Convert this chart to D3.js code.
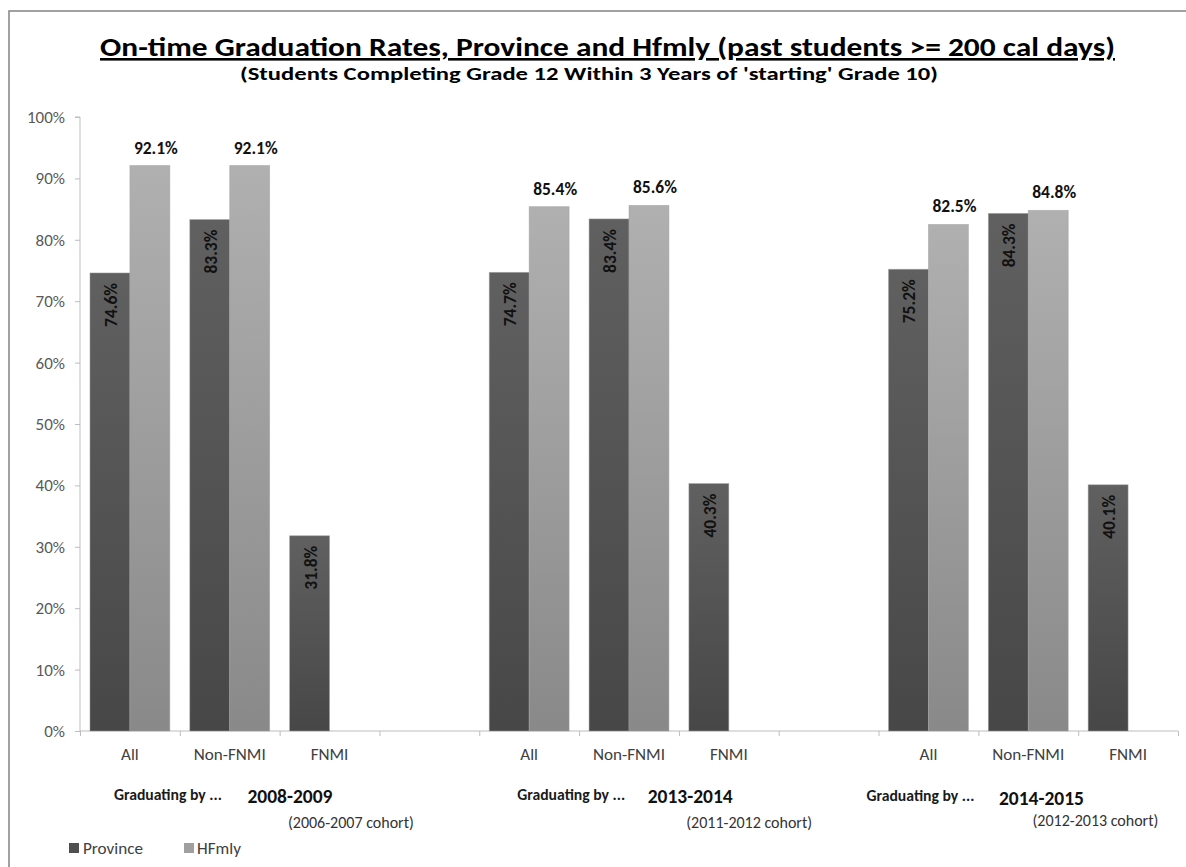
<!DOCTYPE html>
<html>
<head>
<meta charset="utf-8">
<script src="https://cdn.jsdelivr.net/npm/d3@7/dist/d3.min.js"></script>
<style>
  html, body { margin: 0; padding: 0; background: #fff; }
  svg { display: block; font-family: Carlito, Lato, "Open Sans", sans-serif; }
</style>
</head>
<body>
<svg id="chart" width="1186" height="867"></svg>
<script>
// ---------------- data ----------------
const categories = ["All", "Non-FNMI", "FNMI", "", "All", "Non-FNMI", "FNMI", "", "All", "Non-FNMI", "FNMI"];
const seriesNames = ["Province", "HFmly"];
const province = [74.6, 83.3, 31.8, null, 74.7, 83.4, 40.3, null, 75.2, 84.3, 40.1];
const hfmly    = [92.1, 92.1, null, null, 85.4, 85.6, null, null, 82.5, 84.8, null];
const yTicks = [0, 0.1, 0.2, 0.3, 0.4, 0.5, 0.6, 0.7, 0.8, 0.9, 1.0];
const groupStart = [0, 4, 8];
const gradLabels = ["Graduating by ...", "Graduating by ...", "Graduating by ..."];
const yearLabels = ["2008-2009", "2013-2014", "2014-2015"];
const cohortLabels = ["(2006-2007 cohort)", "(2011-2012 cohort)", "(2012-2013 cohort)"];
const titleText = "On-time Graduation Rates, Province and Hfmly (past students >= 200 cal days)";
const subtitleText = "(Students Completing Grade 12 Within 3 Years of 'starting' Grade 10)";

// ---------------- layout ----------------
const plot = { left: 80, right: 1178, top: 117, bottom: 731 };
const gradDx = [38, 42, -8], yearDx = [160, 161, 113], cohortDx = [221, 220, 167];
const yearDy = [803, 803, 805], gradDy = [800, 800, 801], cohortDy = [828, 828, 826];

const svg = d3.select("#chart");

// font size fitted so a sample string reaches a target width (Calibri substitute)
function fitSize(sample, weight, target) {
  const t = svg.append("text").style("font-size", "100px").style("font-weight", weight).text(sample);
  const w = t.node().getComputedTextLength();
  t.remove();
  return (100 * target / w).toFixed(2) + "px";
}
const fsYTick = fitSize("100%", "normal", 38);
const fsCat = fitSize("Non-FNMI", "normal", 72);
const fsVal = fitSize("92.1%", "bold", 44);
const fsGrad = fitSize("Graduating by ...", "bold", 108);
const fsYear = fitSize("2008-2009", "bold", 85);
const fsCohort = fitSize("(2006-2007 cohort)", "normal", 126);
const fsLegend = fitSize("Province", "normal", 60);

// frame
svg.append("rect").attr("x", 9).attr("y", 11).attr("width", 1300).attr("height", 1000)
  .attr("fill", "none").attr("stroke", "#8a8a8a").attr("stroke-width", 1.6);

// gradients
const defs = svg.append("defs");
function grad(id, top, bottom) {
  const g = defs.append("linearGradient").attr("id", id).attr("x1", 0).attr("y1", 0).attr("x2", 0).attr("y2", 1);
  g.append("stop").attr("offset", "0%").attr("stop-color", top);
  g.append("stop").attr("offset", "100%").attr("stop-color", bottom);
}
grad("gProv", "#606060", "#474747");
grad("gHf", "#b0b0b0", "#898989");
const fills = { Province: "url(#gProv)", HFmly: "url(#gHf)" };
const legendColors = { Province: "#4f4f4f", HFmly: "#a0a0a0" };

// scales
const idx = d3.range(categories.length);
const x = d3.scaleBand().domain(idx).range([plot.left, plot.right]).paddingInner(0.2).paddingOuter(0.1);
const xs = d3.scaleBand().domain(seriesNames).range([0, x.bandwidth()]);
const xEdge = d3.scaleLinear().domain([0, categories.length]).range([plot.left, plot.right]);
const y = d3.scaleLinear().domain([0, 1]).range([plot.bottom, plot.top]);

// y axis
const yAxis = svg.append("g").attr("transform", `translate(${plot.left},0)`)
  .call(d3.axisLeft(y).tickValues(yTicks).tickFormat(d3.format(".0%")).tickSize(5).tickPadding(10));
yAxis.select(".domain").attr("stroke", "#bdbdbd").attr("d", `M-5,${plot.top}H0V${plot.bottom}`);
yAxis.selectAll(".tick line").attr("stroke", "#bdbdbd");
yAxis.selectAll(".tick text").attr("fill", "#595959").style("font-size", fsYTick).style("font-family", "Carlito, Lato, sans-serif");

// x axis (ticks at slot edges)
const xAxis = svg.append("g").attr("transform", `translate(0,${plot.bottom})`)
  .call(d3.axisBottom(xEdge).tickValues(d3.range(categories.length + 1)).tickFormat("").tickSize(5));
xAxis.select(".domain").attr("stroke", "#bdbdbd").attr("d", `M${plot.left},0H${plot.right}`);
xAxis.selectAll(".tick line").attr("stroke", "#bdbdbd");

// category labels
svg.append("g").selectAll("text").data(idx).join("text")
  .attr("x", i => x(i) + x.bandwidth() / 2)
  .attr("y", 760)
  .attr("text-anchor", "middle")
  .attr("fill", "#404040")
  .style("font-size", fsCat)
  .text(i => categories[i]);

// bars
const barData = [];
idx.forEach(i => {
  if (province[i] != null) barData.push({ i, s: "Province", v: province[i] / 100 });
  if (hfmly[i] != null) barData.push({ i, s: "HFmly", v: hfmly[i] / 100 });
});
svg.append("g").selectAll("rect").data(barData).join("rect")
  .attr("x", d => x(d.i) + xs(d.s))
  .attr("y", d => y(d.v))
  .attr("width", xs.bandwidth())
  .attr("height", d => y(0) - y(d.v))
  .attr("fill", d => fills[d.s])
  .attr("stroke", "rgba(160,160,160,0.6)")
  .attr("stroke-width", 0.8);

// labels: province rotated inside bar
svg.append("g").selectAll("text").data(barData.filter(d => d.s === "Province")).join("text")
  .attr("transform", d => `translate(${x(d.i) + xs(d.s) + xs.bandwidth() / 2 + 1},${y(d.v) + 10}) rotate(-90)`)
  .attr("text-anchor", "end")
  .attr("dominant-baseline", "central")
  .attr("fill", "#111")
  .style("font-size", fsVal).style("font-weight", "bold")
  .text(d => d3.format(".1f")(d.v * 100) + "%");

// labels: HFmly above bar
svg.append("g").selectAll("text").data(barData.filter(d => d.s === "HFmly")).join("text")
  .attr("x", d => x(d.i) + xs(d.s) + xs.bandwidth() / 2 + 6)
  .attr("y", d => y(d.v) - 12)
  .attr("text-anchor", "middle")
  .attr("fill", "#111")
  .style("font-size", fsVal).style("font-weight", "bold")
  .text(d => d3.format(".1f")(d.v * 100) + "%");

// group labels
const gl = svg.append("g");
groupStart.forEach((s, k) => {
  const cx = x(s) + x.bandwidth() / 2;
  gl.append("text").attr("x", cx + gradDx[k]).attr("y", gradDy[k]).attr("text-anchor", "middle")
    .attr("fill", "#1a1a1a").style("font-size", fsGrad).style("font-weight", "bold").text(gradLabels[k]);
  gl.append("text").attr("x", cx + yearDx[k]).attr("y", yearDy[k]).attr("text-anchor", "middle")
    .attr("fill", "#111").style("font-size", fsYear).style("font-weight", "bold").text(yearLabels[k]);
  gl.append("text").attr("x", cx + cohortDx[k]).attr("y", cohortDy[k]).attr("text-anchor", "middle")
    .attr("fill", "#333").style("font-size", fsCohort).text(cohortLabels[k]);
});

// title
svg.append("text").attr("x", 607.5).attr("y", 56).attr("text-anchor", "middle")
  .attr("fill", "#000").style("font-size", "26px").style("font-weight", "bold")
  .style("text-decoration", "underline")
  .attr("textLength", 1015).attr("lengthAdjust", "spacingAndGlyphs")
  .text(titleText);
svg.append("text").attr("x", 589).attr("y", 80).attr("text-anchor", "middle")
  .attr("fill", "#000").style("font-size", "18px").style("font-weight", "bold")
  .attr("textLength", 698).attr("lengthAdjust", "spacingAndGlyphs")
  .text(subtitleText);

// legend
const legendX = [69, 184], legendTextX = [83, 197];
const lg = svg.append("g");
seriesNames.forEach((s, k) => {
  lg.append("rect").attr("x", legendX[k]).attr("y", 843).attr("width", 10).attr("height", 10).attr("fill", legendColors[s]);
  lg.append("text").attr("x", legendTextX[k]).attr("y", 854).attr("fill", "#404040").style("font-size", fsLegend).text(s);
});
</script>
</body>
</html>
